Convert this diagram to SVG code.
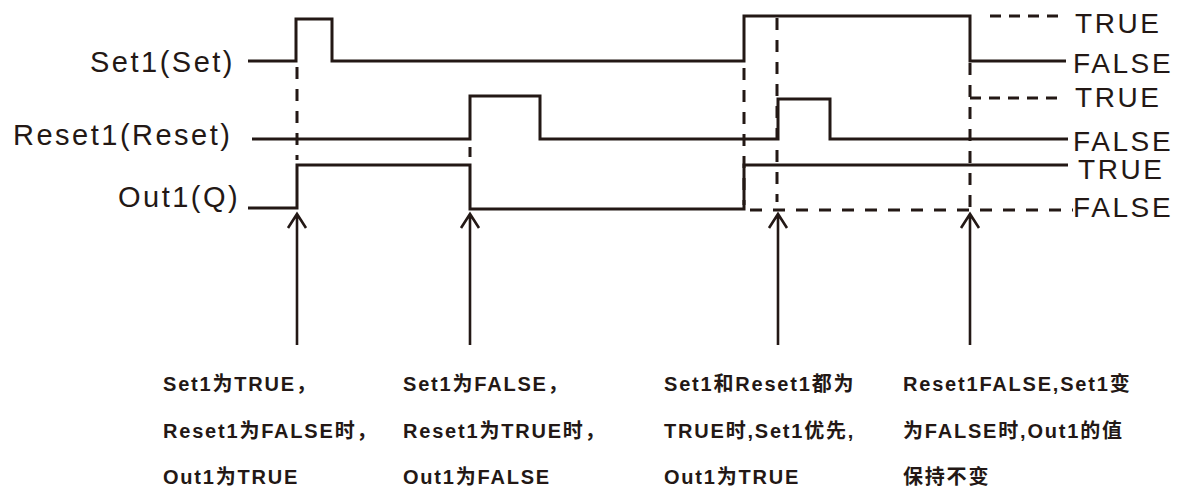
<svg xmlns="http://www.w3.org/2000/svg" width="1192" height="491" viewBox="0 0 1192 491">
<style>
.w{fill:none;stroke:#231815;stroke-width:3;stroke-linejoin:miter;stroke-linecap:butt}
.d{fill:none;stroke:#231815;stroke-width:3;stroke-dasharray:12 10}
.a{fill:none;stroke:#231815;stroke-width:2.6}
.lab{font-family:"Liberation Sans",Arial,sans-serif;font-size:29px;letter-spacing:2.5px;fill:#231815}
.rl{font-family:"Liberation Sans",Arial,sans-serif;font-size:28px;letter-spacing:2.6px;fill:#231815}
.note{font-family:"Liberation Sans","Noto Sans CJK SC",sans-serif;font-size:20px;font-weight:bold;letter-spacing:1.8px;fill:#231815}
</style>
<rect width="1192" height="491" fill="#ffffff"/>
<g id="labels-left">
<text class="lab" x="90" y="72">Set1(Set)</text>
<text class="lab" x="13" y="145">Reset1(Reset)</text>
<text class="lab" x="118" y="207">Out1(Q)</text>
</g>
<g id="labels-right">
<text class="rl" x="1075" y="33">TRUE</text>
<text class="rl" x="1073" y="73">FALSE</text>
<text class="rl" x="1075" y="107">TRUE</text>
<text class="rl" x="1073" y="151">FALSE</text>
<text class="rl" x="1078" y="179">TRUE</text>
<text class="rl" x="1073" y="217">FALSE</text>
</g>
<g id="waveforms">
<path id="set1" class="w" d="M248,61 H296 V19 H332 V61 H744 V16 H970 V61 H1066"/>
<path id="reset1" class="w" d="M252,139 H470 V96 H540 V139 H778 V99 H830 V139 H1068"/>
<path id="out1" class="w" d="M248,208 H297 V165 H470 V209 H744 V165 H1068"/>
</g>
<g id="connectors">
<line class="d" x1="297" y1="67" x2="297" y2="160"/>
<line class="d" x1="470" y1="147" x2="470" y2="157"/>
<line class="d" x1="744" y1="68" x2="744" y2="205"/>
<line class="d" x1="777" y1="18" x2="777" y2="202"/>
<line class="d" x1="970" y1="63" x2="970" y2="210"/>
<line class="d" x1="990" y1="16" x2="1060" y2="16" style="stroke-dasharray:11 8"/>
<line class="d" x1="970" y1="98" x2="1060" y2="98" style="stroke-dasharray:11 8"/>
<line class="d" x1="750" y1="210" x2="1073" y2="210" style="stroke-dasharray:12 11"/>
<path class="a" d="M297,214 V345 M288,228 L297,214 L306,228"/>
<path class="a" d="M470,214 V345 M461,228 L470,214 L479,228"/>
<path class="a" d="M778,214 V345 M769,228 L778,214 L787,228"/>
<path class="a" d="M970,214 V345 M961,228 L970,214 L979,228"/>
</g>
<g id="note1">
<text class="note" x="163" y="391">Set1为TRUE，</text>
<text class="note" x="163" y="438">Reset1为FALSE时，</text>
<text class="note" x="163" y="484">Out1为TRUE</text>
</g>
<g id="note2">
<text class="note" x="403" y="391">Set1为FALSE，</text>
<text class="note" x="403" y="438">Reset1为TRUE时，</text>
<text class="note" x="403" y="484">Out1为FALSE</text>
</g>
<g id="note3">
<text class="note" x="664" y="391">Set1和Reset1都为</text>
<text class="note" x="664" y="438">TRUE时,Set1优先,</text>
<text class="note" x="664" y="484">Out1为TRUE</text>
</g>
<g id="note4">
<text class="note" x="903" y="391">Reset1FALSE,Set1变</text>
<text class="note" x="903" y="438">为FALSE时,Out1的值</text>
<text class="note" x="903" y="484">保持不变</text>
</g>
</svg>
